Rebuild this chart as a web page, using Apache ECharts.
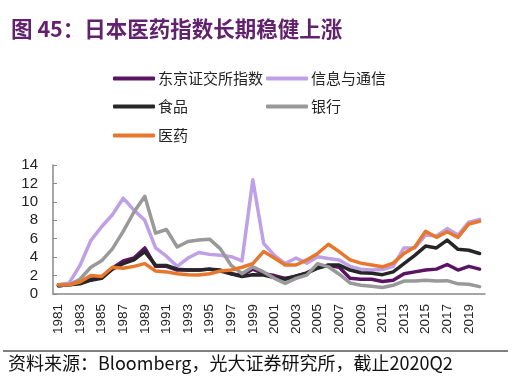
<!DOCTYPE html>
<html><head><meta charset="utf-8">
<script src="https://cdn.jsdelivr.net/npm/echarts@6/dist/echarts.min.js"></script>
<style>html,body{margin:0;padding:0;background:#fff}#c{width:512px;height:378px}</style>
</head><body><div id="c"></div>
<script>
const years = ['1981','1982','1983','1984','1985','1986','1987','1988','1989','1990','1991','1992','1993','1994','1995','1996','1997','1998','1999','2000','2001','2002','2003','2004','2005','2006','2007','2008','2009','2010','2011','2012','2013','2014','2015','2016','2017','2018','2019','2020'];
const tokyo = [0.9,1.0,1.2,1.6,1.8,2.8,3.6,3.9,5.0,3.0,3.0,2.6,2.6,2.6,2.7,2.5,2.2,2.0,2.7,2.2,2.0,1.7,1.9,2.3,2.9,3.1,2.9,1.7,1.6,1.6,1.35,1.5,2.2,2.4,2.6,2.7,3.2,2.6,3.0,2.7];
const itTel = [1.0,1.2,3.1,5.8,7.3,8.6,10.4,9.1,8.0,5.0,4.1,3.0,3.9,4.5,4.3,4.2,4.05,3.6,12.4,5.5,4.2,3.3,3.9,3.35,4.05,3.85,3.7,3.0,2.7,2.6,2.65,3.0,5.0,5.0,6.4,6.3,7.1,6.4,7.8,8.1];
const food = [0.9,1.0,1.1,1.5,1.7,2.7,3.3,3.7,4.6,3.1,3.1,2.7,2.6,2.6,2.7,2.6,2.2,1.9,2.1,2.05,1.8,1.6,1.95,2.25,2.8,3.15,3.15,2.6,2.3,2.25,2.1,2.4,3.3,4.2,5.2,5.0,5.85,4.85,4.75,4.4];
const bank = [1.0,1.0,1.6,2.9,3.6,4.9,6.8,8.9,10.6,6.6,7.0,5.1,5.7,5.85,5.95,4.9,3.1,2.2,2.95,2.4,1.7,1.15,1.7,2.05,3.3,2.95,2.15,1.2,0.95,0.85,0.7,0.95,1.4,1.4,1.5,1.4,1.45,1.1,1.05,0.8];
const pharma = [1.0,1.0,1.3,2.0,1.9,2.9,2.8,3.0,3.3,2.5,2.4,2.2,2.1,2.05,2.2,2.5,2.6,2.9,3.3,4.6,3.9,3.15,3.15,3.7,4.4,5.4,4.6,3.7,3.35,3.15,2.95,3.35,4.4,5.1,6.8,6.15,6.75,6.15,7.6,7.9];
const names = ['东京证交所指数','信息与通信','食品','银行','医药'];
const colors = ['#5a1463','#bfa0e6','#262626','#999999','#e8772e'];
const yTicks = {min:0, max:14, interval:2};

const chart = echarts.init(document.getElementById('c'), null, {renderer:'canvas'});
const legendPos = [[108,66],[261,66],[108,94],[261,94],[108,123]];
const seriesData = [tokyo, itTel, food, bank, pharma];
chart.setOption({
  animation:false,
  title:{text:'图 45：日本医药指数长期稳健上涨', left:6, top:13,
    textStyle:{fontSize:21.5, fontWeight:'bold', color:'#62206e', fontFamily:'"Noto Sans CJK SC", sans-serif'}},
  legend: names.map((n,i)=>({data:[n], left:legendPos[i][0], top:legendPos[i][1], itemWidth:42, itemHeight:4, icon:'roundRect', itemGap:4,
    textStyle:{fontSize:15, color:'#222', fontFamily:'"Noto Sans CJK SC", sans-serif', padding:[0,0,0,-2]}})),
  grid:{left:53, right:27, top:165, bottom:84},
  xAxis:{type:'category', data:years, boundaryGap:true,
    axisLine:{lineStyle:{color:'#888', width:1.5}},
    axisTick:{inside:true, length:4, interval:0, lineStyle:{color:'#888'}},
    axisLabel:{interval:1, rotate:90, fontSize:13.5, color:'#222', margin:10, fontFamily:'Liberation Sans, Arial, sans-serif'}},
  yAxis:{type:'value', min:yTicks.min, max:yTicks.max, interval:yTicks.interval,
    splitLine:{show:false},
    axisLine:{show:true, lineStyle:{color:'#888', width:1.5}},
    axisTick:{show:true, inside:true, length:4, lineStyle:{color:'#888'}},
    axisLabel:{fontSize:15, color:'#222', margin:15, fontFamily:'Liberation Sans, Arial, sans-serif'}},
  series: names.map((n,i)=>({name:n, type:'line', data:seriesData[i], symbol:'none', smooth:false,
    lineStyle:{width:3.5, color:colors[i], join:'round', cap:'round'}, itemStyle:{color:colors[i]}})),
  graphic:[
    {type:'line', shape:{x1:3, y1:351, x2:508, y2:351}, style:{stroke:'#000', lineWidth:1}},
    {type:'text', left:8, top:354, style:{text:'资料来源：Bloomberg，光大证券研究所，截止2020Q2', fontSize:18, fill:'#111', fontFamily:'"Noto Sans CJK SC", sans-serif'}}
  ]
});
</script></body></html>
